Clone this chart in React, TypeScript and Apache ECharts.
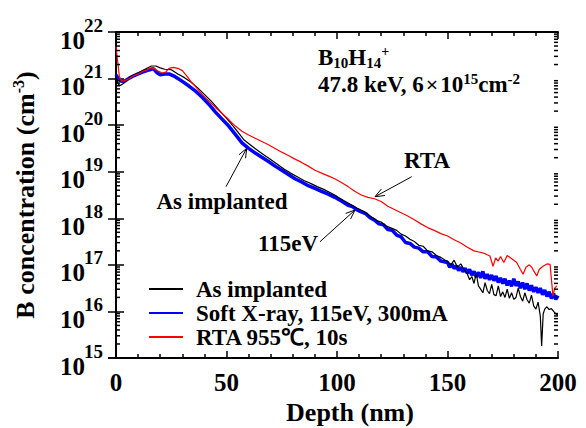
import React, { useEffect, useRef } from "react";
import * as echarts from "echarts";

const FONT = "'Liberation Serif', 'Times New Roman', Times, serif";

const seriesNames = ["As implanted", "Soft X-ray, 115eV, 300mA", "RTA 955℃, 10s"];
const yExponentMin = 15;
const yExponentMax = 22;

// As implanted (black): depth (nm) and log10 concentration
const blackDepth = [0, 1, 2, 3.5, 6, 8, 10, 12, 14, 16, 18, 20, 22, 25, 28, 31, 34, 37, 40, 43, 46, 49, 52, 55, 58, 61, 64, 67, 70, 73, 76, 79, 82, 85, 88, 91, 94, 97, 100, 103, 106, 109, 112, 115, 118, 120, 122, 124, 127, 129, 131, 133, 135, 137, 139, 141, 143, 145, 147, 149,
  150, 151.5, 153, 154.5, 156, 157.5, 159, 160, 161, 162, 163, 164, 165, 166, 167, 168, 169, 170, 171, 172, 173, 174, 175, 176, 177, 178, 179, 180, 181, 182, 183, 184, 185, 186, 187, 188, 189, 190, 191, 192, 192.6, 193.3, 194, 195, 196, 197, 198, 199, 200];
const blackLog = [21.05, 20.88, 20.85, 20.9, 21.02, 21.07, 21.12, 21.17, 21.22, 21.27, 21.27, 21.23, 21.2, 21.19, 21.1, 21.02, 20.92, 20.8, 20.66, 20.52, 20.36, 20.2, 20.04, 19.86, 19.68, 19.57, 19.46, 19.36, 19.26, 19.16, 19.06, 18.97, 18.89, 18.81, 18.75, 18.68, 18.62, 18.55, 18.47, 18.38, 18.3, 18.22, 18.15, 18.05, 17.95, 17.92, 17.84, 17.8, 17.74, 17.66, 17.62, 17.55, 17.5, 17.42, 17.4, 17.3, 17.28, 17.2, 17.16, 17.1,
  17.08, 17.0, 17.1, 16.95, 17.02, 16.9, 16.8, 16.68, 16.75, 16.6, 16.82, 16.55, 16.48, 16.4, 16.62, 16.45, 16.38, 16.58, 16.36, 16.34, 16.55, 16.32, 16.42, 16.3, 16.48, 16.28, 16.4, 16.26, 16.3, 16.5, 16.32, 16.22, 16.4, 16.25, 16.18, 16.35, 16.12, 16.05, 16.2, 15.9, 15.26, 15.95, 16.05, 16.1, 16.04, 16.06, 16.0, 15.95, 15.92];

// Soft X-ray, 115eV, 300mA (blue)
const blueDepth = [0, 1, 2.5, 4, 6, 8, 10, 12, 14, 16, 17, 18.5, 20, 22, 24, 26, 28, 30, 33, 36, 39, 42, 45, 48, 51, 54, 57, 60, 63, 66, 69, 72, 75, 78, 81, 84, 87, 90, 93, 96, 99, 102, 105, 107, 109, 111, 113, 115, 117, 119, 121, 123, 125, 127, 129, 131, 133, 135, 137, 139, 141, 143, 145, 147, 149,
  150, 151, 152, 153, 154, 155, 156, 157, 158, 159, 160, 161, 162, 163, 164, 165, 166, 167, 168, 169, 170, 171, 172, 173, 174, 175, 176, 177, 178, 179, 180, 181, 182, 183, 184, 185, 186, 187, 188, 189, 190, 191, 192, 193, 194, 195, 196, 197, 198, 199, 200];
const blueLog = [21.08, 21.0, 20.94, 20.95, 21.01, 21.06, 21.1, 21.14, 21.17, 21.2, 21.21, 21.13, 21.08, 21.1, 21.1, 21.06, 21.0, 20.94, 20.84, 20.73, 20.6, 20.45, 20.28, 20.13, 19.98, 19.8, 19.62, 19.5, 19.4, 19.31, 19.22, 19.12, 19.03, 18.94, 18.85, 18.78, 18.7, 18.64, 18.58, 18.52, 18.45, 18.37, 18.28, 18.25, 18.18, 18.14, 18.1, 18.01, 17.96, 17.88, 17.86, 17.76, 17.74, 17.64, 17.6, 17.48, 17.46, 17.38, 17.36, 17.28, 17.28, 17.18, 17.17, 17.08, 17.06,
  17.05, 16.95, 17.02, 16.92, 16.98, 16.88, 16.95, 16.85, 16.93, 16.82, 16.9, 16.78, 16.86, 16.74, 16.84, 16.72, 16.86, 16.7, 16.8, 16.68, 16.78, 16.66, 16.76, 16.62, 16.72, 16.6, 16.7, 16.56, 16.66, 16.54, 16.7, 16.55, 16.64, 16.5, 16.62, 16.48, 16.6, 16.45, 16.56, 16.42, 16.52, 16.4, 16.5, 16.36, 16.46, 16.32, 16.42, 16.28, 16.38, 16.26, 16.34];

// RTA 955℃, 10s (red)
const redDepth = [0, 0.8, 1.5, 2.5, 4, 6, 8, 10, 12, 14, 16, 17, 19, 21, 22.5, 24, 26, 28, 30, 32, 34, 36.5, 39, 42, 45, 48, 51, 54, 57, 60, 63, 66, 69, 72, 75, 78, 81, 84, 87, 90, 93, 96, 99, 102, 105, 108, 111, 114, 117, 120, 123, 126, 129, 132, 135, 138, 141, 144, 147, 150, 153, 156, 159, 162, 164.7, 167, 169.2, 170.6, 171.8, 172.9, 174, 175.5, 177, 178.3, 180, 181.3, 183, 184.2, 185.5, 187, 188.1, 189.3, 190.4, 191.5, 193.2, 195, 196.4, 197.2, 197.7, 198.5, 199.5];
const redLog = [21.68, 21.35, 21.05, 20.95, 20.95, 21.0, 21.06, 21.1, 21.15, 21.19, 21.23, 21.22, 21.16, 21.12, 21.14, 21.22, 21.24, 21.22, 21.17, 21.06, 20.93, 20.8, 20.66, 20.52, 20.38, 20.25, 20.12, 19.98, 19.87, 19.79, 19.72, 19.65, 19.58, 19.5, 19.42, 19.35, 19.27, 19.2, 19.12, 19.03, 18.97, 18.91, 18.85, 18.77, 18.68, 18.58, 18.5, 18.45, 18.42, 18.36, 18.26, 18.19, 18.12, 18.05, 17.97, 17.88, 17.8, 17.74, 17.67, 17.62, 17.54, 17.47, 17.38, 17.3, 17.27, 17.24, 17.19, 16.97, 17.15, 17.08, 17.18, 17.05, 17.2, 17.16, 17.1, 17.05, 16.9, 16.8, 16.95, 17.0, 16.95, 16.85, 16.76, 16.9, 16.97, 17.02, 17.01, 16.6, 16.33, 16.5, 16.55];

const toPairs = (d: number[], l: number[]) => d.map((x, i) => [x, Math.pow(10, l[i])]);

function arrow(x1: number, y1: number, x2: number, y2: number) {
  const ang = Math.atan2(y2 - y1, x2 - x1);
  const L = 10;
  const a = 0.38;
  const p1 = [x2 - L * Math.cos(ang - a), y2 - L * Math.sin(ang - a)];
  const p2 = [x2 - L * Math.cos(ang + a), y2 - L * Math.sin(ang + a)];
  return [
    { type: "line", shape: { x1, y1, x2, y2 }, style: { stroke: "#000", lineWidth: 1 } },
    { type: "polyline", shape: { points: [p1, [x2, y2], p2] }, style: { stroke: "#000", lineWidth: 1, fill: null } },
  ];
}

const bold = { fontFamily: FONT, fontWeight: "bold", color: "#000" };

export default function App() {
  const ref = useRef<HTMLDivElement>(null);
  useEffect(() => {
    if (!ref.current) return;
    const chart = echarts.init(ref.current, null, { renderer: "svg" });

    const minorVals: number[][] = [];
    for (let n = yExponentMin; n < yExponentMax; n++) {
      for (let m = 2; m <= 9; m++) minorVals.push([0, m * Math.pow(10, n)]);
    }

    const axisLine = { show: true, lineStyle: { color: "#000", width: 2 } };
    const xCommon = {
      type: "value",
      min: 0,
      max: 200,
      interval: 50,
      axisLine,
      axisTick: { show: true, inside: true, length: 7, lineStyle: { color: "#000", width: 1.5 } },
      minorTick: { show: true, splitNumber: 5, length: 4, lineStyle: { color: "#000", width: 1.5 } },
      splitLine: { show: false },
      minorSplitLine: { show: false },
    };
    const yCommon = {
      type: "log",
      logBase: 10,
      min: Math.pow(10, yExponentMin),
      max: Math.pow(10, yExponentMax),
      splitNumber: 7,
      axisLine,
      axisTick: { show: true, inside: true, length: 8, lineStyle: { color: "#000", width: 1.5 } },
      minorTick: { show: false },
      splitLine: { show: false },
      minorSplitLine: { show: false },
    };

    chart.setOption({
      animation: false,
      backgroundColor: "#fff",
      grid: { left: 116, right: 28, top: 32, bottom: 70, containLabel: false, outerBoundsMode: "none" },
      legend: {
        data: seriesNames,
        orient: "vertical",
        left: 148,
        top: 277,
        padding: 0,
        itemWidth: 34,
        itemHeight: 10,
        itemGap: 0,
        selectedMode: false,
        itemStyle: { opacity: 0 },
        textStyle: { ...bold, fontSize: 23, lineHeight: 24, padding: [0, 0, 0, 8] },
      },
      xAxis: [
        {
          ...xCommon,
          position: "bottom",
          axisLabel: { ...bold, fontSize: 25, margin: 12 },
          name: "Depth (nm)",
          nameLocation: "middle",
          nameGap: 41,
          nameTextStyle: { ...bold, fontSize: 26, padding: [0, 0, 0, 26] },
        },
        { ...xCommon, position: "top", axisLabel: { show: false } },
      ],
      yAxis: [
        {
          ...yCommon,
          position: "left",
          axisLabel: {
            margin: 13,
            align: "right",
            formatter: (v: number) => {
              const e = Math.round(Math.log10(v));
              return `{e|${e}}\n{b|10}{sp| }`;
            },
            rich: {
              e: { ...bold, fontSize: 19, lineHeight: 16 },
              b: { ...bold, fontSize: 25, lineHeight: 14 },
              sp: { ...bold, fontSize: 19, width: 18, lineHeight: 14 },
            },
          },
          name: "B concentration (cm{sup|-3})",
          nameLocation: "middle",
          nameGap: 76,
          nameTextStyle: {
            ...bold,
            fontSize: 26,
            lineHeight: 30,
            rich: { sup: { ...bold, fontSize: 16, lineHeight: 18, verticalAlign: "top" } },
          },
        },
        { ...yCommon, position: "right", axisLabel: { show: false } },
      ],
      series: [
        {
          name: seriesNames[1],
          type: "line",
          data: toPairs(blueDepth, blueLog),
          symbol: "none",
          showSymbol: false,
          lineStyle: { color: "#0000ff", width: 3.5 },
          itemStyle: { color: "#0000ff" },
          z: 2,
        },
        {
          name: seriesNames[0],
          type: "line",
          data: toPairs(blackDepth, blackLog),
          symbol: "none",
          showSymbol: false,
          lineStyle: { color: "#000", width: 1.2 },
          itemStyle: { color: "#000" },
          z: 3,
        },
        {
          name: seriesNames[2],
          type: "line",
          data: toPairs(redDepth, redLog),
          symbol: "none",
          showSymbol: false,
          lineStyle: { color: "#ff0000", width: 1.2 },
          itemStyle: { color: "#ff0000" },
          z: 4,
        },
        {
          name: "minor",
          type: "custom",
          silent: true,
          data: minorVals,
          z: 5,
          renderItem: (params: any, api: any) => {
            const cs = params.coordSys;
            const y = api.coord([0, api.value(1)])[1];
            return {
              type: "group",
              children: [
                { type: "line", shape: { x1: cs.x, y1: y, x2: cs.x + 4, y2: y }, style: { stroke: "#000", lineWidth: 1.5 } },
                { type: "line", shape: { x1: cs.x + cs.width - 4, y1: y, x2: cs.x + cs.width, y2: y }, style: { stroke: "#000", lineWidth: 1.5 } },
              ],
            };
          },
        },
      ],
      graphic: [
        {
          type: "text",
          x: 318,
          y: 44,
          style: {
            text: "{b|B}{s|10}{b|H}{s|14}{p|+}",
            rich: {
              b: { fontFamily: FONT, fontWeight: "bold", fontSize: 23, lineHeight: 26, fill: "#000" },
              s: { fontFamily: FONT, fontWeight: "bold", fontSize: 15, lineHeight: 14, verticalAlign: "bottom", fill: "#000" },
              p: { fontFamily: FONT, fontWeight: "bold", fontSize: 14, lineHeight: 14, verticalAlign: "top", fill: "#000" },
            },
          },
        },
        {
          type: "text",
          x: 318,
          y: 71,
          style: {
            text: "{b|47.8 keV, 6}{m|×}{b|10}{p|15}{b|cm}{p|-2}",
            rich: {
              b: { fontFamily: FONT, fontWeight: "bold", fontSize: 23, lineHeight: 26, fill: "#000" },
              m: { fontFamily: FONT, fontWeight: "bold", fontSize: 22, lineHeight: 26, fill: "#000", padding: [0, 2, 0, 2] },
              p: { fontFamily: FONT, fontWeight: "bold", fontSize: 15, lineHeight: 16, verticalAlign: "top", fill: "#000" },
            },
          },
        },
        {
          type: "text",
          x: 427,
          y: 160,
          style: { text: "RTA", font: `bold 23px ${FONT}`, fill: "#000", align: "center", verticalAlign: "middle" },
        },
        {
          type: "text",
          x: 222,
          y: 201,
          style: { text: "As implanted", font: `bold 23px ${FONT}`, fill: "#000", align: "center", verticalAlign: "middle" },
        },
        {
          type: "text",
          x: 288,
          y: 243,
          style: { text: "115eV", font: `bold 23px ${FONT}`, fill: "#000", align: "center", verticalAlign: "middle" },
        },
        ...arrow(411.7, 176.7, 375, 196.7),
        ...arrow(226, 186.7, 246.7, 148.3),
        ...arrow(320, 241.7, 355, 210),
      ],
    });
    return () => chart.dispose();
  }, []);

  return (
    <div
      ref={ref}
      style={{ position: "fixed", left: 0, top: 0, width: 586, height: 428, background: "#fff" }}
    />
  );
}
